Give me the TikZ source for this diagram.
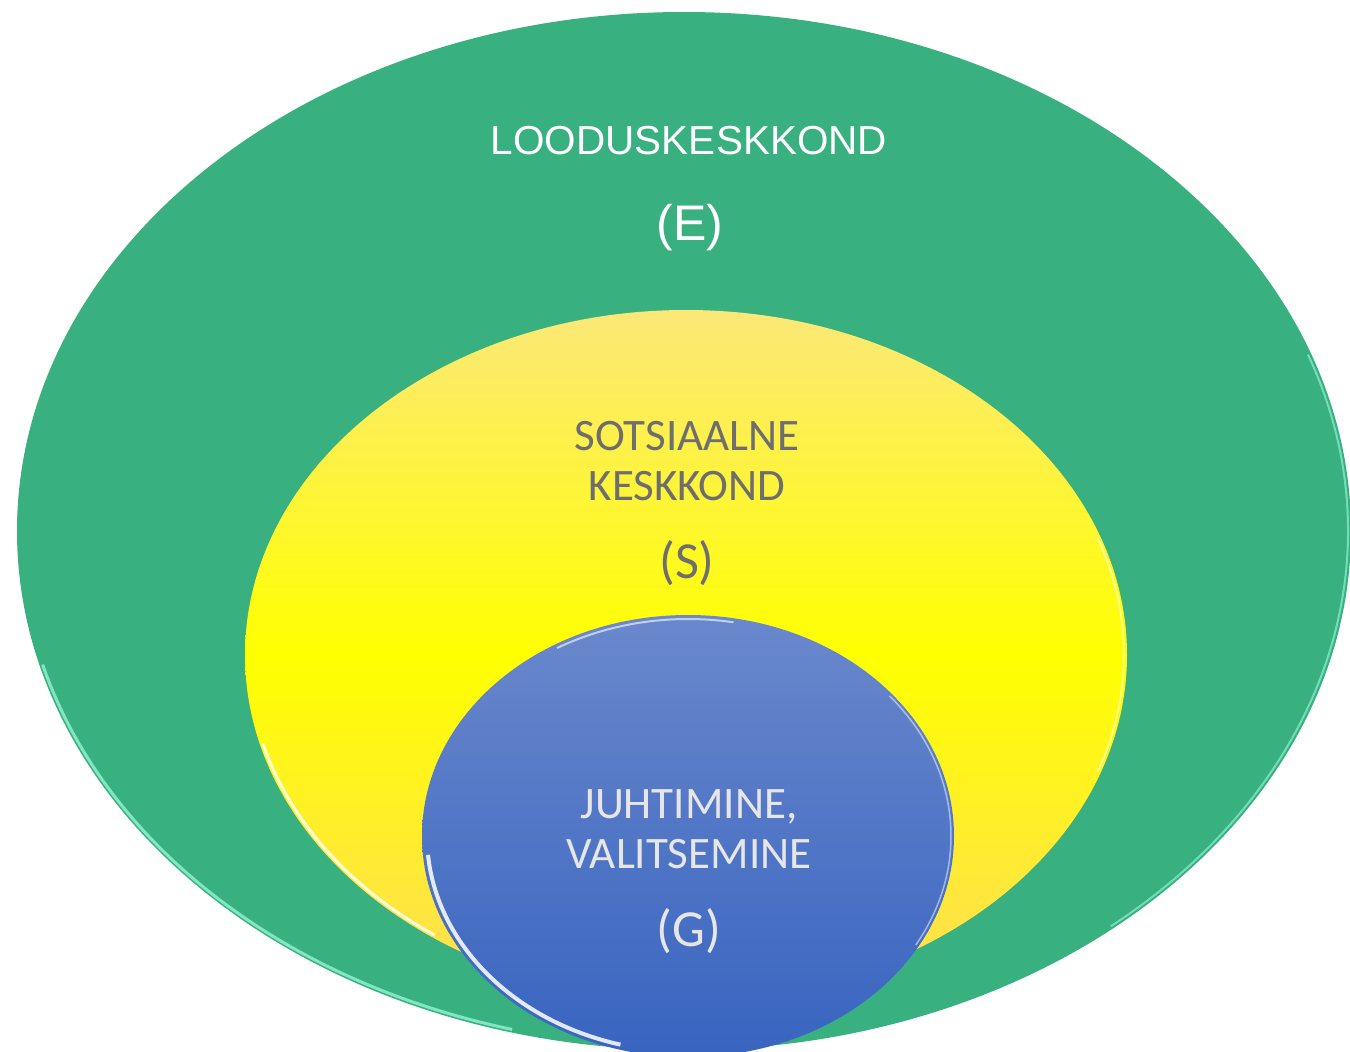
\documentclass[tikz,border=0pt]{standalone}
\usepackage{fontspec}
\setmainfont{Carlito}
\newfontfamily\arialfont{Liberation Sans}
\definecolor{envgreen}{HTML}{38B07F}
\definecolor{greenrim}{HTML}{8FF0D0}
\definecolor{ytop}{HTML}{FCE878}
\definecolor{ymid}{HTML}{FFFF00}
\definecolor{ybot}{HTML}{FFDD55}
\definecolor{btop}{HTML}{6A88CC}
\definecolor{bbot}{HTML}{3864C0}
\definecolor{graytext}{HTML}{6E6E6E}
\definecolor{lighttext}{HTML}{E6E6E6}
\tikzset{
  envlabel/.style={text=white, font=\arialfont\fontsize{40.5}{46}\selectfont, align=center},
  soclabel/.style={text=graytext, font=\fontsize{45}{50}\selectfont, align=center},
  govlabel/.style={text=lighttext, font=\fontsize{45}{50}\selectfont, align=center},
}
\begin{document}
\begin{tikzpicture}[x=1pt,y=-1pt]
\useasboundingbox (0,0) rectangle (1350,1052);
\begin{scope}
\clip (0,0) rectangle (1350,1052);
% outer green ellipse
\fill[envgreen] (684,531) ellipse [x radius=667, y radius=519];
\draw[greenrim, line width=3, opacity=0.85] (684,531) ++(105:664 and 516) arc [start angle=105, end angle=165, x radius=664, y radius=516];
\draw[greenrim, line width=2, opacity=0.7] (684,531) ++(-20:664 and 516) arc [start angle=-20, end angle=50, x radius=664, y radius=516];
% yellow ellipse
\shade[top color=ytop, bottom color=ybot, middle color=ymid] (686,655) ellipse [x radius=441, y radius=345];
\draw[white, line width=3, opacity=0.8] (686,655) ++(125:438 and 342) arc [start angle=125, end angle=165, x radius=438, y radius=342];
\draw[white, line width=2, opacity=0.5] (686,655) ++(-20:438 and 342) arc [start angle=-20, end angle=20, x radius=438, y radius=342];
% blue ellipse
\shade[top color=btop, bottom color=bbot] (688,836) ellipse [x radius=266, y radius=221];
\draw[white, line width=4, opacity=0.85] (688,836) ++(105:261 and 216) arc [start angle=105, end angle=175, x radius=261, y radius=216];
\draw[white, line width=2, opacity=0.6] (688,836) ++(-120:262 and 217) arc [start angle=-120, end angle=-80, x radius=262, y radius=217];
\draw[white, line width=1.5, opacity=0.5] (688,836) ++(-40:263 and 218) arc [start angle=-40, end angle=30, x radius=263, y radius=218];
\end{scope}
% labels
\node[envlabel] (e1) at (689,141) {LOODUSKESKKOND};
\node[envlabel, font=\arialfont\fontsize{50}{56}\selectfont] (e2) at (690,228) {(E)};
\node[soclabel] (s1) at (687,461) {SOTSIAALNE\\KESKKOND};
\node[soclabel, font=\fontsize{52}{58}\selectfont] (s2) at (687,563) {(S)};
\node[govlabel] (g1) at (689,829) {JUHTIMINE,\\VALITSEMINE};
\node[govlabel, font=\fontsize{52}{58}\selectfont] (g2) at (689,931) {(G)};
\end{tikzpicture}
\end{document}
